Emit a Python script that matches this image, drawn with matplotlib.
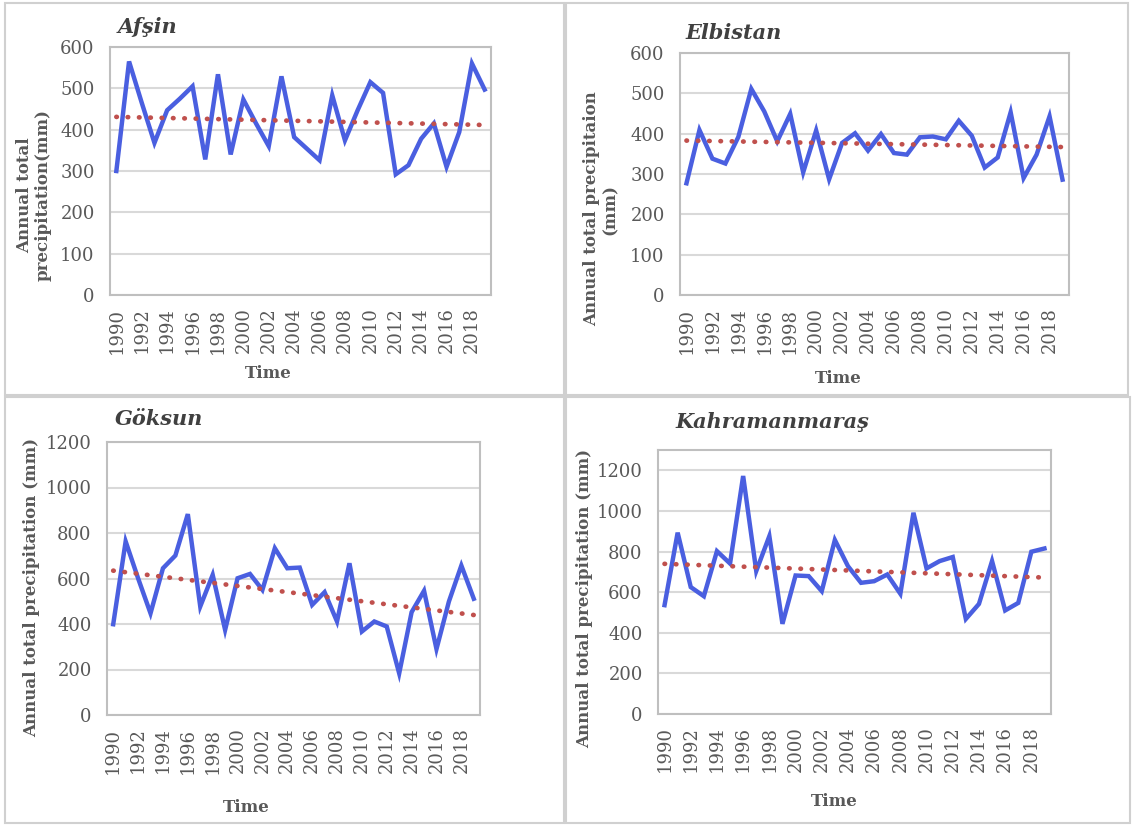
import matplotlib.pyplot as plt
import numpy as np
from matplotlib.patches import Rectangle

years = list(range(1990, 2020))

afsin = [300, 565, 465, 368, 447, 475, 505, 328, 534, 340,
         473, 415, 360, 529, 382, 354, 326, 483, 374, 447,
         515, 489, 292, 314, 378, 415, 310, 394, 560, 497]

elbistan = [277, 409, 338, 326, 392, 511, 455, 381, 449, 304,
            408, 287, 377, 401, 358, 399, 352, 348, 391, 393,
            386, 432, 395, 316, 341, 453, 290, 348, 443, 286]

goksun = [399, 763, 601, 447, 645, 701, 883, 477, 616, 374,
          601, 620, 550, 733, 645, 648, 484, 540, 411, 667,
          367, 411, 389, 183, 452, 546, 290, 499, 657, 511]

kmaras = [536, 893, 625, 580, 802, 741, 1172, 704, 876, 444,
          682, 679, 605, 857, 728, 646, 654, 687, 592, 991,
          717, 753, 773, 468, 542, 753, 510, 547, 799, 815]

W, H = 1132, 825
fig = plt.figure(figsize=(W / 100, H / 100), dpi=100)
fig.patch.set_facecolor('white')

serif = 'DejaVu Serif'
txt = '#595959'
blue = '#4A5FE0'
red = '#C0504D'

# panel frames
for x0, y0, x1, y1 in [(5, 3, 564, 395), (566, 3, 1128, 395),
                       (5, 397, 564, 823), (566, 397, 1130, 823)]:
    fig.patches.append(Rectangle((x0 / W, 1 - y1 / H), (x1 - x0) / W, (y1 - y0) / H,
                                 transform=fig.transFigure, fill=False,
                                 edgecolor='#D0D0D0', lw=1.5))


def px_axes(x0, y0, x1, y1):
    return fig.add_axes([x0 / W, 1 - y1 / H, (x1 - x0) / W, (y1 - y0) / H])


def panel(box, vals, ymax, ystep, title, tpos, ylab, ypos, xpos):
    ax = px_axes(*box)
    x = np.arange(len(vals))
    ax.plot(x, vals, color=blue, lw=3.2, solid_joinstyle='miter', zorder=3)
    # linear trend
    k, b = np.polyfit(x, vals, 1)
    ax.plot(x, k * x + b, color=red, lw=3.4, ls=(0, (0.1, 2.3)),
            dash_capstyle='round', zorder=4)
    ax.set_xlim(-0.5, len(vals) - 0.5)
    ax.set_ylim(0, ymax)
    ax.set_yticks(np.arange(0, ymax + 1, ystep) if ymax % ystep == 0
                  else np.arange(0, ymax, ystep))
    ax.set_xticks(x[::2])
    ax.set_xticklabels([str(y) for y in years[::2]], rotation=90)
    ax.tick_params(length=0, labelsize=13, labelcolor=txt)
    ax.tick_params(axis='y', pad=11)
    ax.tick_params(axis='x', pad=9)
    for lab in ax.get_xticklabels() + ax.get_yticklabels():
        lab.set_family(serif)
    ax.grid(axis='y', color='#D9D9D9', lw=1.5)
    ax.set_axisbelow(True)
    for s in ax.spines.values():
        s.set_color('#BFBFBF')
        s.set_linewidth(1.5)
    fig.text(tpos[0] / W, 1 - tpos[1] / H, title, family=serif, weight='bold',
             style='italic', size=15, color='#404040', va='center', ha='left')
    fig.text(ypos[0] / W, 1 - ypos[1] / H, ylab, family=serif, weight='bold',
             size=12, color=txt, rotation=90, va='center', ha='center',
             linespacing=1.1)
    fig.text(xpos[0] / W, 1 - xpos[1] / H, 'Time', family=serif, weight='bold',
             size=12, color=txt, va='center', ha='center')
    return ax


panel((110, 47, 491, 295), afsin, 600, 100, 'Afşin', (118, 27),
      'Annual total\nprecipitation(mm)', (34, 195), (268, 373))
panel((680, 53, 1069, 295), elbistan, 600, 100, 'Elbistan', (685, 33),
      'Annual total precipitaion\n(mm)', (601, 209), (838, 378))
panel((107, 442, 480, 715), goksun, 1200, 200, 'Göksun', (115, 419),
      'Annual total precipitation (mm)', (32, 587), (246, 807))
panel((658, 450, 1051, 714), kmaras, 1300, 200, 'Kahramanmaraş', (675, 422),
      'Annual total precipitation (mm)', (585, 598), (834, 802))

fig.savefig('out.png', dpi=100)
